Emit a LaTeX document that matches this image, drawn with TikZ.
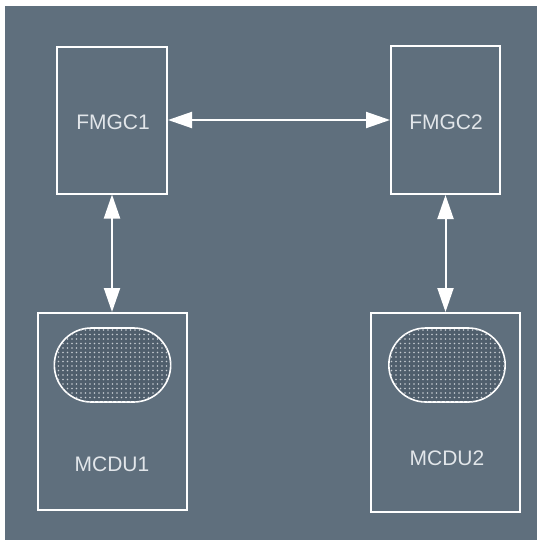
\documentclass[tikz,border=0pt]{standalone}
\usepackage{fontspec}
\setmainfont{Liberation Sans}
\usetikzlibrary{arrows.meta,patterns.meta,shapes.misc}
\definecolor{slate}{HTML}{5F6F7D}
\definecolor{screengray}{HTML}{4F5E6C}
\definecolor{labelgray}{HTML}{E2E6EA}
\begin{document}
\begin{tikzpicture}[x=1pt, y=-1pt, >={Triangle[length=24pt,width=16pt]},
    box/.style={draw=white, line width=2pt, inner sep=0pt},
    txt/.style={text=labelgray, font=\fontsize{21}{24}\selectfont},
    screen/.style={rounded rectangle, draw=white, line width=1.6pt, fill=screengray,
        minimum width=123pt, minimum height=74pt,
        postaction={pattern={Dots[distance=4.5pt, radius=0.8pt]}, pattern color=labelgray!80!screengray}},
    link/.style={<->, draw=white, line width=2pt}]
    \fill[white] (0,0) rectangle (542,546);
    \fill[slate] (5,6) rectangle (537,540);
    \useasboundingbox (0,0) rectangle (542,546);

    % computers
    \node[box, minimum width=110pt, minimum height=147pt] (fmgcA) at (112,120) {};
    \node[box, minimum width=109pt, minimum height=148pt] (fmgcB) at (445.5,120) {};
    \node[txt] (fmgcAtxt) at (113,122) {FMGC1};
    \node[txt] (fmgcBtxt) at (446,122) {FMGC2};

    % control units
    \node[box, minimum width=149pt, minimum height=197pt] (mcduA) at (112,411.5) {};
    \node[box, minimum width=149pt, minimum height=199pt] (mcduB) at (445.5,412.5) {};
    \node[screen] (scrA) at (112.5,365) {};
    \node[screen] (scrB) at (447,365) {};
    \node[txt] (mcduAtxt) at (112,464) {MCDU1};
    \node[txt] (mcduBtxt) at (447,458) {MCDU2};

    \draw[link] (fmgcA) -- (fmgcB);
    \draw[link] (fmgcA) -- (mcduA);
    \draw[link] (fmgcB) -- (mcduB);
\end{tikzpicture}
\end{document}
